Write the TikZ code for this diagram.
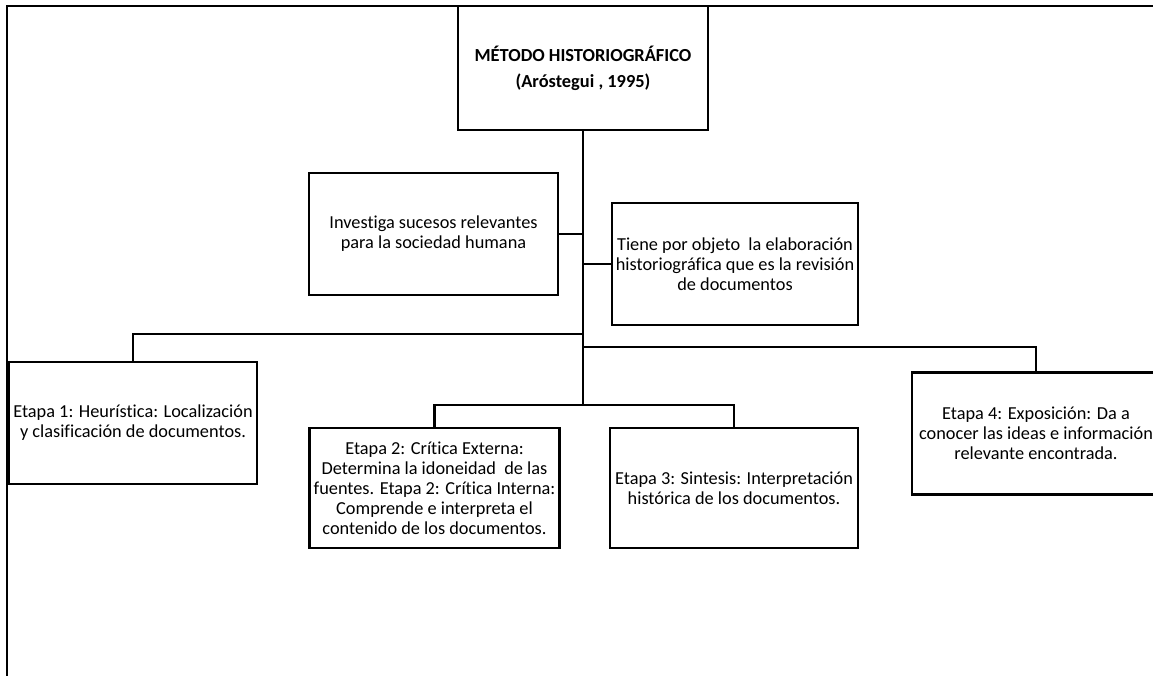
\documentclass[tikz,border=0pt]{standalone}
\usepackage{fontspec}
\setmainfont[Ligatures={NoCommon}]{Carlito}
\begin{document}
\begin{tikzpicture}[x=1pt,y=-1pt,
  boxnode/.style={draw, line width=2.8pt, align=center, inner sep=0pt,
    font=\fontsize{18.3}{20}\selectfont},
  link/.style={line width=2.8pt},
  frame/.style={line width=1.5pt}]
\clip (0,0) rectangle (1153,675);
% outer frame
\coordinate (fb) at (7,680);
\coordinate (ftl) at (7,6);
\coordinate (ftr) at (1160,6);
\draw[frame] (fb) -- (ftl) -- (ftr);
% boxes
\node[boxnode, minimum width=250pt, minimum height=124pt, font=\fontsize{18.4}{20}\selectfont\bfseries]
  (main) at (583,68) {MÉTODO HISTORIOGRÁFICO\\[6pt](Aróstegui , 1995)};
\node[boxnode, minimum width=249pt, minimum height=122pt] (inv) at (433.5,234)
  {Investiga sucesos relevantes\\para la sociedad humana};
\node[boxnode, minimum width=246pt, minimum height=122pt] (obj) at (735,264)
  {Tiene por objeto\ \ la elaboración\\historiográfica que es la revisión\\de documentos};
\node[boxnode, minimum width=248pt, minimum height=122pt] (e1) at (133,423)
  {Etapa 1: Heurística: Localización\\y clasificación de documentos.};
\node[boxnode, minimum width=250pt, minimum height=120pt] (e2) at (434.5,488)
  {Etapa 2: Crítica Externa:\\Determina la idoneidad\ \ de las\\fuentes. Etapa 2: Crítica Interna:\\Comprende e interpreta el\\contenido de los documentos.};
\node[boxnode, minimum width=248pt, minimum height=120pt] (e3) at (734,488)
  {Etapa 3: Sintesis: Interpretación\\histórica de los documentos.};
\node[boxnode, minimum width=248pt, minimum height=122pt] (e4) at (1036,433.5)
  {Etapa 4: Exposición: Da a\\conocer las ideas e información\\relevante encontrada.};
% junctions on trunk
\coordinate (jt) at (583,405);
\coordinate (j1) at (583,334);
\coordinate (j4) at (583,347);
% connectors
\draw[link] (main.south) -- (jt);
\draw[link] (inv.east) -- (inv.east -| jt);
\draw[link] (obj.west) -- (obj.west -| jt);
\draw[link] (e1.north) |- (j1);
\draw[link] (e4.north) |- (j4);
\draw[link] (e2.north) |- (jt) -| (e3.north);
\end{tikzpicture}
\end{document}
